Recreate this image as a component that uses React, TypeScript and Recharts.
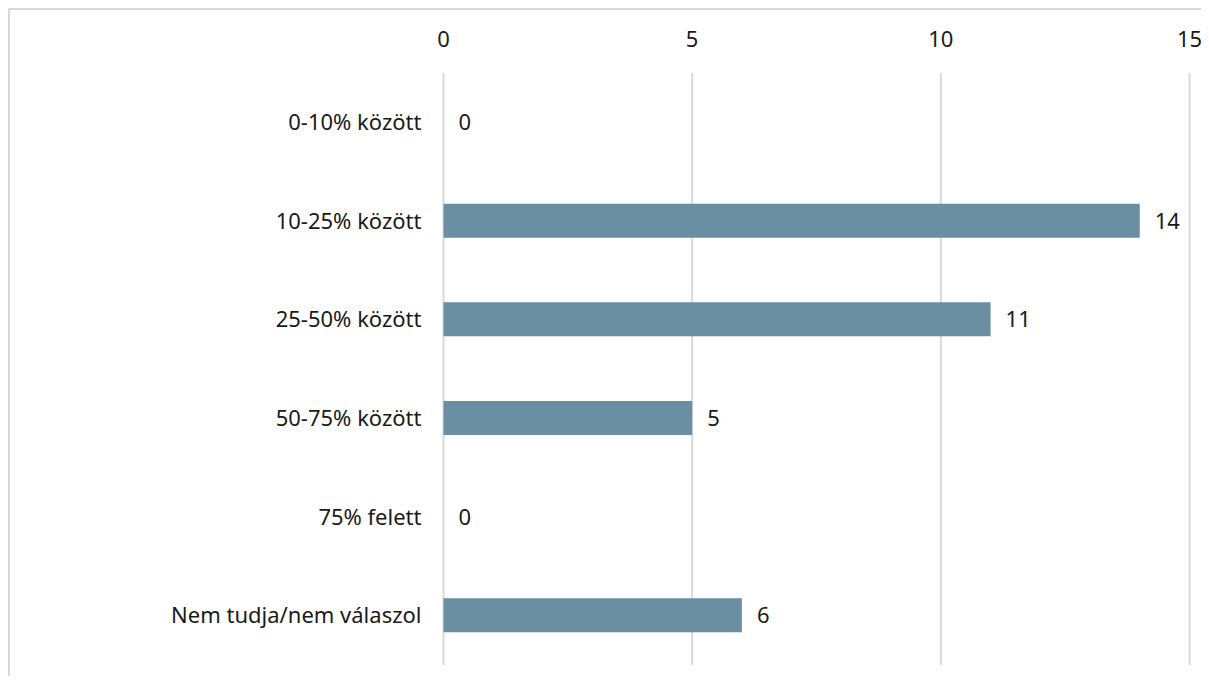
import React from "react";
import { ComposedChart, Bar, Line, XAxis, YAxis, CartesianGrid, LabelList } from "recharts";

const categories = [
  "0-10% között",
  "10-25% között",
  "25-50% között",
  "50-75% között",
  "75% felett",
  "Nem tudja/nem válaszol",
];
const values = [0, 14, 11, 5, 0, 6];
const xTicks = [0, 5, 10, 15];

const data = categories.map((c, i) => ({ name: c, value: values[i] }));

const FONT = "'Noto Sans', 'Open Sans', sans-serif";
const TEXT = "#1a1a1a";

export default function App() {
  return (
    <div
      style={{
        width: 1199,
        height: 674,
        borderTop: "2px solid #d9d9d9",
        borderLeft: "2px solid #d9d9d9",
        marginBottom: -8,
        background: "#fff",
        fontFamily: FONT,
      }}
    >
      <ComposedChart
        width={1199}
        height={674}
        data={data}
        layout="vertical"
        margin={{ top: 23, right: 19.5, bottom: 19, left: 0 }}
      >
        <CartesianGrid horizontal={false} stroke="#d9d9d9" strokeWidth={2} />
        <XAxis
          type="number"
          orientation="top"
          domain={[0, 15]}
          ticks={xTicks}
          axisLine={false}
          tickLine={false}
          tickSize={0}
          tickMargin={26}
          height={40}
          interval={0}
          tick={{ fill: TEXT, fontSize: 22, fontFamily: FONT }}
        />
        <YAxis
          type="category"
          dataKey="name"
          width={433.5}
          axisLine={false}
          tickLine={false}
          tickSize={0}
          tickMargin={22}
          interval={0}
          tick={{ fill: TEXT, fontSize: 22, fontFamily: FONT }}
        />
        <Bar dataKey="value" fill="#6a8fa3" barSize={34} isAnimationActive={false} />
        <Line
          dataKey="value"
          stroke="none"
          dot={false}
          activeDot={false}
          legendType="none"
          isAnimationActive={false}
        >
          <LabelList
            dataKey="value"
            position="right"
            offset={15}
            fill={TEXT}
            fontSize={22}
            fontFamily={FONT}
          />
        </Line>
      </ComposedChart>
    </div>
  );
}
